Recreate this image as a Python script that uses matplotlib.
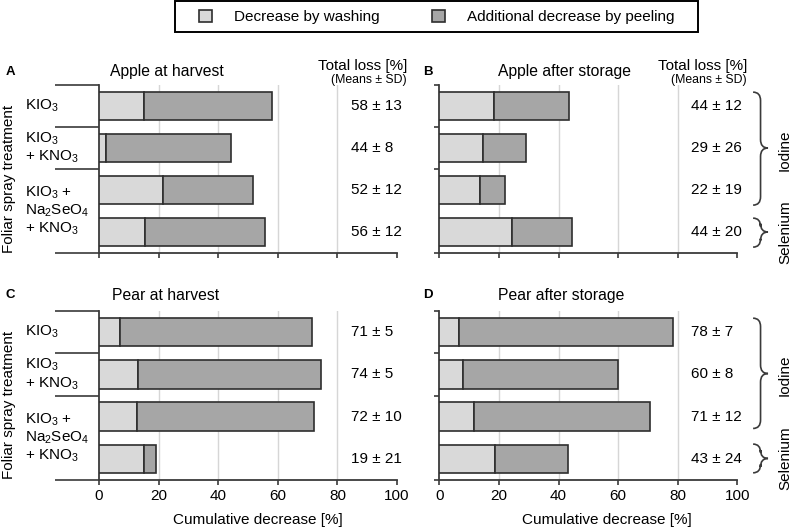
import matplotlib
matplotlib.use('Agg')
import matplotlib.pyplot as plt
from matplotlib.patches import Patch, Rectangle, PathPatch
from matplotlib.path import Path
import matplotlib.transforms as mtransforms

plt.rcParams['font.family'] = ['Liberation Sans', 'DejaVu Sans']
plt.rcParams['mathtext.fontset'] = 'custom'
plt.rcParams['mathtext.rm'] = 'Liberation Sans'
plt.rcParams['mathtext.it'] = 'Liberation Sans:italic'
plt.rcParams['mathtext.bf'] = 'Liberation Sans:bold'
plt.rcParams['font.size'] = 11

# ---------------- data ----------------
treatments = ["KIO$_3$", "KIO$_3$\n+ KNO$_3$", "KIO$_3$ +\nNa$_2$SeO$_4$\n+ KNO$_3$"]
treatment_pos = [0.5, 1.5, 3.0]
bar_pos = [0.5, 1.5, 2.5, 3.5]
legend_labels = ["Decrease by washing", "Additional decrease by peeling"]
panel_letters = ["A", "B", "C", "D"]
panel_titles = ["Apple at harvest", "Apple after storage", "Pear at harvest", "Pear after storage"]

wash_A = [15.2, 2.3, 21.6, 15.4]
total_A = [57.9, 44.4, 51.7, 55.8]
wash_B = [18.4, 14.7, 13.8, 24.5]
total_B = [43.5, 29.0, 22.0, 44.4]
wash_C = [7.0, 13.2, 12.6, 15.2]
total_C = [71.4, 74.5, 72.1, 19.0]
wash_D = [6.5, 7.8, 11.5, 18.7]
total_D = [78.3, 60.1, 70.8, 43.1]

loss_mean_A = [58, 44, 52, 56]
loss_sd_A = [13, 8, 12, 12]
loss_mean_B = [44, 29, 22, 44]
loss_sd_B = [12, 26, 19, 20]
loss_mean_C = [71, 74, 72, 19]
loss_sd_C = [5, 5, 10, 21]
loss_mean_D = [78, 60, 71, 43]
loss_sd_D = [7, 8, 12, 24]

x_ticks = [0, 20, 40, 60, 80, 100]

# ---------------- style ----------------
WASH = '#d9d9d9'
PEEL = '#a6a6a6'
EDGE = '#2e2e2e'
SPINE = '#3a3a3a'
GRID = '#d6d6d6'

W, H = 798, 530
fig = plt.figure(figsize=(W / 100, H / 100), dpi=100)


def fx(px):
    return px / W


def fy(py):
    return 1 - py / H


rects = [
    [fx(99), fy(253), 298 / W, 168 / H],
    [fx(439.3), fy(253), 298 / W, 168 / H],
    [fx(99), fy(480), 298 / W, 169 / H],
    [fx(439.3), fy(480), 298 / W, 169 / H],
]

washes = [wash_A, wash_B, wash_C, wash_D]
totals = [total_A, total_B, total_C, total_D]
means = [loss_mean_A, loss_mean_B, loss_mean_C, loss_mean_D]
sds = [loss_sd_A, loss_sd_B, loss_sd_C, loss_sd_D]


def brace(ax, x0, x1, y0, y1, ym, r):
    xm = (x0 + x1) / 2
    verts = [(x0, y0), (xm, y0), (xm, y0 + r),
             (xm, ym - r),
             (xm, ym), (x1, ym),
             (xm, ym), (xm, ym + r),
             (xm, y1 - r),
             (xm, y1), (x0, y1)]
    codes = [Path.MOVETO, Path.CURVE3, Path.CURVE3,
             Path.LINETO,
             Path.CURVE3, Path.CURVE3,
             Path.CURVE3, Path.CURVE3,
             Path.LINETO,
             Path.CURVE3, Path.CURVE3]
    pp = PathPatch(Path(verts, codes), fill=False, edgecolor=SPINE, lw=1.2,
                   clip_on=False, transform=ax.transData)
    ax.add_patch(pp)


axes = []
for i in range(4):
    ax = fig.add_axes(rects[i])
    axes.append(ax)
    wash = washes[i]
    total = totals[i]
    peel = [t - w for t, w in zip(total, wash)]
    ax.barh(bar_pos, wash, height=0.67, color=WASH, edgecolor=EDGE, linewidth=1.2, zorder=3)
    ax.barh(bar_pos, peel, left=wash, height=0.67, color=PEEL, edgecolor=EDGE, linewidth=1.2, zorder=3)

    ax.set_xlim(0, 100)
    ax.set_ylim(4, 0)
    for s in ['top', 'right']:
        ax.spines[s].set_visible(False)
    for s in ['left', 'bottom']:
        ax.spines[s].set_color(SPINE)
        ax.spines[s].set_linewidth(1.3)

    ax.set_xticks(x_ticks)
    ax.set_axisbelow(True)
    ax.xaxis.grid(True, color=GRID, linewidth=1.0, zorder=0)
    gls = ax.xaxis.get_gridlines()
    gls[0].set_visible(False)
    gls[-1].set_visible(False)
    ax.tick_params(axis='x', direction='out', length=3.6, width=1.2, color=SPINE, pad=3)
    if i < 2:
        ax.tick_params(axis='x', labelbottom=False)

    ax.set_yticks([0, 1, 2, 4])
    ax.set_yticklabels([])
    left_panel = (i % 2 == 0)
    ax.tick_params(axis='y', direction='out', length=31.7 if left_panel else 3.6,
                   width=1.2, color=SPINE)

    for y, m, s in zip(bar_pos, means[i], sds[i]):
        ax.text(84.5, y, f"{m} \u00b1 {s}", ha='left', va='center', fontsize=11)

    if left_panel:
        trans = mtransforms.blended_transform_factory(ax.transAxes, ax.transData)
        for lab, y in zip(treatments, treatment_pos):
            ax.text(-0.248, y, lab, transform=trans, ha='left', va='center',
                    fontsize=11, linespacing=1.15)

    if i >= 2:
        ax.set_xlabel("Cumulative decrease [%]", fontsize=11)
        ax.xaxis.set_label_coords(0.532 if left_panel else 0.562, -0.195)

# braces
brace(axes[1], 105.3, 110.3, 0.17, 2.86, 1.5, 0.2)
brace(axes[1], 105.3, 110.3, 3.17, 3.86, 3.5, 0.2)
brace(axes[3], 105.3, 110.3, 0.17, 2.78, 1.48, 0.2)
brace(axes[3], 105.3, 110.3, 3.15, 3.83, 3.49, 0.2)

# panel headers
fig.text(fx(10), fy(72), "A", fontweight='bold', fontsize=9.5, ha='center', va='center')
fig.text(fx(428), fy(72), "B", fontweight='bold', fontsize=9.5, ha='center', va='center')
fig.text(fx(10), fy(295), "C", fontweight='bold', fontsize=9.5, ha='center', va='center')
fig.text(fx(428), fy(295), "D", fontweight='bold', fontsize=9.5, ha='center', va='center')
fig.text(fx(110), fy(76), panel_titles[0], ha='left', va='baseline', fontsize=11.3)
fig.text(fx(498), fy(76), panel_titles[1], ha='left', va='baseline', fontsize=11.3)
fig.text(fx(111.7), fy(300), panel_titles[2], ha='left', va='baseline', fontsize=11.3)
fig.text(fx(498), fy(300), panel_titles[3], ha='left', va='baseline', fontsize=11.3)

for xr in (407, 747):
    fig.text(fx(xr), fy(70), "Total loss [%]", ha='right', va='baseline', fontsize=11)
    fig.text(fx(xr), fy(82.5), "(Means \u00b1 SD)", ha='right', va='baseline', fontsize=8.8)

# y labels
fig.text(fx(9), fy(179), "Foliar spray treatment", rotation=90, ha='center', va='center', fontsize=11)
fig.text(fx(9), fy(405), "Foliar spray treatment", rotation=90, ha='center', va='center', fontsize=11)

# element labels
fig.text(fx(785), fy(150), "Iodine", rotation=90, ha='center', va='center', fontsize=11)
fig.text(fx(785), fy(232), "Selenium", rotation=90, ha='center', va='center', fontsize=11)
fig.text(fx(785), fy(375), "Iodine", rotation=90, ha='center', va='center', fontsize=11)
fig.text(fx(785), fy(458), "Selenium", rotation=90, ha='center', va='center', fontsize=11)

# legend
handles = [Patch(facecolor=WASH, edgecolor=EDGE, linewidth=1.2),
           Patch(facecolor=PEEL, edgecolor=EDGE, linewidth=1.2)]
fig.legend(handles, legend_labels, loc='center', bbox_to_anchor=(fx(437), fy(17)),
           ncol=2, frameon=False, fontsize=11, handlelength=0.85, handleheight=0.85,
           handletextpad=1.45, columnspacing=3.4, borderpad=0.2)
fig.add_artist(Rectangle((fx(175), fy(32)), (698 - 175) / W, 31 / H, transform=fig.transFigure,
                         fill=False, edgecolor='black', linewidth=1.4))

fig.savefig('out.png', dpi=100)
